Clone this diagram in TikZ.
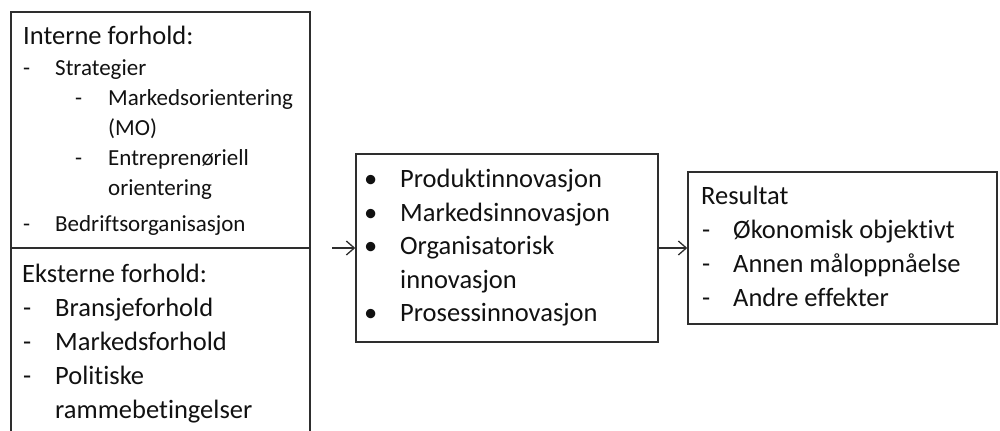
\documentclass[tikz,border=0pt]{standalone}
\usepackage{fontspec}
\setmainfont{Carlito}[Ligatures=NoCommon]
\usetikzlibrary{arrows.meta}
\definecolor{ink}{HTML}{111111}
\definecolor{edge}{HTML}{2E2E2E}
\begin{document}
\begin{tikzpicture}[x=1bp,y=-1bp,
  box/.style={draw=edge, line width=1.4bp, inner sep=0pt, rectangle},
  big/.style={font=\fontsize{26.5bp}{30bp}\selectfont, text=ink, inner sep=0pt, anchor=base west},
  small/.style={font=\fontsize{23bp}{27bp}\selectfont, text=ink, inner sep=0pt, anchor=base west},
  conn/.style={draw=edge, line width=1.3bp, -{Straight Barb[length=8bp,width=14bp,line width=1.3bp]}}]
\useasboundingbox (0,0) rectangle (1000,430);
% boxes
\node[box, minimum width=299bp, minimum height=236bp] (intern) at (160.5,130) {};
\node[box, minimum width=299bp, minimum height=212bp] (ekstern) at (160.5,354) {};
\node[box, minimum width=302bp, minimum height=188bp] (innov) at (507,248) {};
\node[box, minimum width=309bp, minimum height=152bp] (res) at (842.5,248) {};
% connectors
\coordinate (a1) at (332,248);
\draw[conn] (a1) -- (innov.west);
\draw[conn] (innov.east) -- (res.west);
% Interne forhold
\node[big] (i0) at (23,44) {Interne forhold:};
\node[small] (i1d) at (23,75) {-};
\node[small] (i1) at (55,75) {Strategier};
\node[small] (i2d) at (75,105) {-};
\node[small] (i2) at (108,105) {Markedsorientering};
\node[small] (i3) at (108,135) {(MO)};
\node[small] (i4d) at (75,165) {-};
\node[small] (i4) at (108,165) {Entreprenøriell};
\node[small] (i5) at (108,195) {orientering};
\node[small] (i6d) at (23,231) {-};
\node[small] (i6) at (55,231) {Bedriftsorganisasjon};
% Eksterne forhold
\node[big] (e0) at (22,282) {Eksterne forhold:};
\node[big] (e1d) at (23,316) {-};
\node[big] (e1) at (55,316) {Bransjeforhold};
\node[big] (e2d) at (23,350) {-};
\node[big] (e2) at (55,350) {Markedsforhold};
\node[big] (e3d) at (23,384) {-};
\node[big] (e3) at (55,384) {Politiske};
\node[big] (e4) at (55,418) {rammebetingelser};
% innovation
\node[big] (m1b) at (364,187) {•};
\node[big] (m1) at (400,187) {Produktinnovasjon};
\node[big] (m2b) at (364,221) {•};
\node[big] (m2) at (400,221) {Markedsinnovasjon};
\node[big] (m3b) at (364,254) {•};
\node[big] (m3) at (400,254) {Organisatorisk};
\node[big] (m4) at (400,288) {innovasjon};
\node[big] (m5b) at (364,321) {•};
\node[big] (m5) at (400,321) {Prosessinnovasjon};
% Resultat
\node[big] (r0) at (701,204) {Resultat};
\node[big] (r1d) at (702,238) {-};
\node[big] (r1) at (733,238) {Økonomisk objektivt};
\node[big] (r2d) at (702,272) {-};
\node[big] (r2) at (733,272) {Annen måloppnåelse};
\node[big] (r3d) at (702,306) {-};
\node[big] (r3) at (733,306) {Andre effekter};
\end{tikzpicture}
\end{document}
